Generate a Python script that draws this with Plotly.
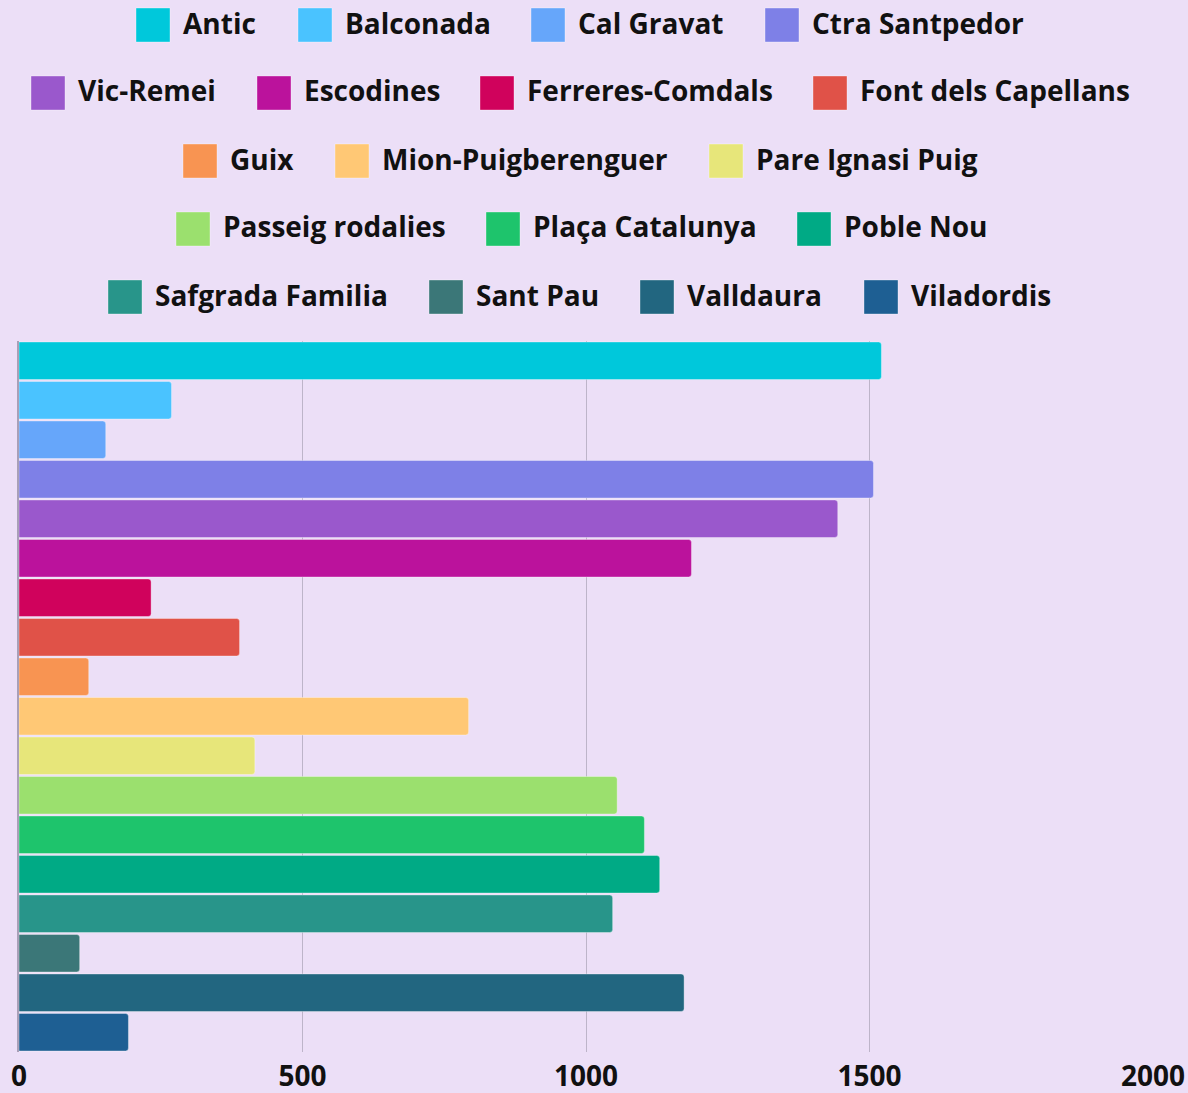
import plotly.graph_objects as go

# ---- data ----
stations = ["Antic", "Balconada", "Cal Gravat", "Ctra Santpedor", "Vic-Remei",
            "Escodines", "Ferreres-Comdals", "Font dels Capellans", "Guix",
            "Mion-Puigberenguer", "Pare Ignasi Puig", "Passeig rodalies",
            "Plaça Catalunya", "Poble Nou", "Safgrada Familia", "Sant Pau",
            "Valldaura", "Viladordis"]
values = [1521, 269, 153, 1507, 1444, 1186, 233, 389, 123, 793, 416,
          1055, 1103, 1130, 1047, 107, 1173, 193]
colors = ["#00C8DB", "#4AC3FF", "#66A6FA", "#7E80E7", "#9A58CC", "#BB129C",
          "#D0025C", "#E05248", "#F89452", "#FFC875", "#E7E67A", "#9BE06E",
          "#1EC46C", "#00AA85", "#28958A", "#3B7778", "#226680", "#1E5F93"]
x_ticks = [0, 500, 1000, 1500, 2000]

# ---- layout geometry ----
W, H = 1188, 1093
ML, MR, MT, MB = 19, 35, 341, 41
PW, PH = W - ML - MR, H - MT - MB
BG = "#ECDFF7"
FONT = "Open Sans"

def px_x(p):
    return (p - ML) / PW

def px_y(p):
    return (H - MB - p) / PH

fig = go.Figure()
for name, v, c in zip(stations, values, colors):
    fig.add_trace(go.Bar(
        y=["Estacions"], x=[v], name=name, orientation="h",
        marker=dict(color=c, line=dict(color="rgba(255,255,255,0.35)", width=1)),
        showlegend=False,
    ))

# ---- manual legend (centered wrapped rows) ----
legend_rows = [
    [(0, 136), (1, 298), (2, 531), (3, 765)],
    [(4, 31), (5, 257), (6, 480), (7, 813)],
    [(8, 183), (9, 335), (10, 709)],
    [(11, 176), (12, 486), (13, 797)],
    [(14, 108), (15, 429), (16, 640), (17, 864)],
]
row_centers = [25, 93, 161, 229, 297]
SW = 34
shapes = []
annotations = []
for row, cy in zip(legend_rows, row_centers):
    for idx, left in row:
        shapes.append(dict(
            type="rect", xref="paper", yref="paper",
            x0=px_x(left), x1=px_x(left + SW),
            y0=px_y(cy + SW / 2), y1=px_y(cy - SW / 2),
            fillcolor=colors[idx], line=dict(color="rgba(255,255,255,0.35)", width=1),
            layer="above",
        ))
        annotations.append(dict(
            text=f"<b>{stations[idx]}</b>", xref="paper", yref="paper",
            x=px_x(left + SW + 11), y=px_y(cy - 2.5), xanchor="left", yanchor="middle",
            showarrow=False, font=dict(family=FONT, size=28, color="#111111"),
        ))

fig.update_layout(
    width=W, height=H,
    margin=dict(l=ML, r=MR, t=MT, b=MB, pad=0, autoexpand=False),
    paper_bgcolor=BG, plot_bgcolor=BG,
    barmode="group", bargap=0, bargroupgap=0.05, barcornerradius=3,
    showlegend=False,
    shapes=shapes, annotations=annotations,
    font=dict(family=FONT, color="#111111"),
)
fig.update_xaxes(
    range=[0, 2000], tickvals=x_ticks, ticktext=[f"<b>{t}</b>" for t in x_ticks],
    tickfont=dict(family=FONT, size=28, color="#111111"),
    showgrid=True, gridcolor="#BDB4C9", gridwidth=1, automargin=False,
    zeroline=False, showline=False, ticks="", ticklabelstandoff=5,
)
fig.update_yaxes(
    range=[0.5, -0.5], showticklabels=False, showgrid=False, zeroline=False,
    showline=True, linecolor="#A9A0B8", linewidth=1.5, ticks="", automargin=False,
)

fig.write_html(
    "out.html",
    config={"displayModeBar": False},
    post_script="document.documentElement.style.margin='0';"
                "document.body.style.margin='0';"
                "document.body.style.overflow='hidden';"
                "document.body.style.background='" + BG + "';",
)
